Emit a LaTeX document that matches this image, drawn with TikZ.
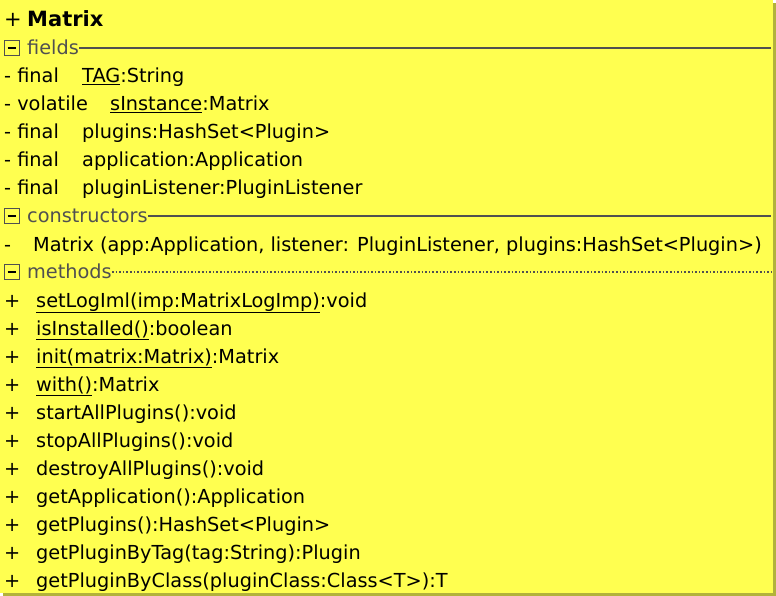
\documentclass[tikz,border=0pt]{standalone}
\usepackage{fontspec}
\setmainfont{DejaVu Sans}
\begin{document}
\begin{tikzpicture}[x=1pt, y=-1pt]

  % Define Colors
  \definecolor{notefill}{RGB}{255,255,80}
  \definecolor{noteshadow}{RGB}{178,178,58}
  \definecolor{headgray}{RGB}{80,80,80}

  % Node styles
  \tikzstyle{row}=[anchor=base west, inner sep=0pt, font=\fontsize{19.3}{22}\selectfont]
  \tikzstyle{titlerow}=[anchor=base west, inner sep=0pt, font=\fontsize{21}{24}\selectfont]
  \tikzstyle{head}=[row, text=headgray]
  \tikzstyle{foldbox}=[draw=headgray, thick, minimum size=15pt, inner sep=0pt]
  \tikzstyle{sep}=[headgray, line width=2pt]
  \tikzstyle{sepdot}=[headgray, line width=1.6pt, dash pattern=on 1.6pt off 2pt]

  % Box
  \useasboundingbox (0,0) rectangle (776,596);
  \fill[noteshadow] (3,3) rectangle (776,596);
  \fill[notefill] (0,0) rectangle (773,593);

  % Title
  \node[titlerow] (t_plus) at (4,27) {+};
  \node[titlerow, font=\fontsize{21}{24}\selectfont\bfseries] (t_name) at (27,27) {Matrix};

  % Fields
  \node[foldbox] (b_fields) at (12,48) {\rule{9pt}{1.5pt}};
  \node[head] (h_fields) at (27,54.5) {fields};
  \draw[sep] (h_fields.east |- b_fields) -- (771,48);

  \node[row] (f_1a) at (4,83) {- final};
  \node[row] (f_1b) at (82,83) {\underline{TAG}:String};
  \node[row] (f_2a) at (4,111) {- volatile};
  \node[row] (f_2b) at (110,111) {\underline{sInstance}:Matrix};
  \node[row] (f_3a) at (4,139) {- final};
  \node[row] (f_3b) at (82,139) {plugins:HashSet<Plugin>};
  \node[row] (f_4a) at (4,167) {- final};
  \node[row] (f_4b) at (82,167) {application:Application};
  \node[row] (f_5a) at (4,195) {- final};
  \node[row] (f_5b) at (82,195) {pluginListener:PluginListener};

  % Constructors
  \node[foldbox] (b_ctors) at (12,216) {\rule{9pt}{1.5pt}};
  \node[head] (h_ctors) at (27,222.5) {constructors};
  \draw[sep] (h_ctors.east |- b_ctors) -- (771,216);

  \node[row] (c_1a) at (4,251) {-};
  \node[row] (c_1b) at (33,251) {Matrix (app:Application, listener: PluginListener, plugins:HashSet<Plugin>)};

  % Methods
  \node[foldbox] (b_meths) at (12,272) {\rule{9pt}{1.5pt}};
  \node[head] (h_meths) at (27,278.5) {methods};
  \draw[sepdot] (h_meths.east |- b_meths) -- (771,272);

  \node[row] (m_1a) at (4,307) {+};
  \node[row] (m_1b) at (36,307) {\underline{setLogIml(imp:MatrixLogImp)}:void};
  \node[row] (m_2a) at (4,335) {+};
  \node[row] (m_2b) at (36,335) {\underline{isInstalled()}:boolean};
  \node[row] (m_3a) at (4,363) {+};
  \node[row] (m_3b) at (36,363) {\underline{init(matrix:Matrix)}:Matrix};
  \node[row] (m_4a) at (4,391) {+};
  \node[row] (m_4b) at (36,391) {\underline{with()}:Matrix};
  \node[row] (m_5a) at (4,419) {+};
  \node[row] (m_5b) at (36,419) {startAllPlugins():void};
  \node[row] (m_6a) at (4,447) {+};
  \node[row] (m_6b) at (36,447) {stopAllPlugins():void};
  \node[row] (m_7a) at (4,475) {+};
  \node[row] (m_7b) at (36,475) {destroyAllPlugins():void};
  \node[row] (m_8a) at (4,503) {+};
  \node[row] (m_8b) at (36,503) {getApplication():Application};
  \node[row] (m_9a) at (4,531) {+};
  \node[row] (m_9b) at (36,531) {getPlugins():HashSet<Plugin>};
  \node[row] (m_10a) at (4,559) {+};
  \node[row] (m_10b) at (36,559) {getPluginByTag(tag:String):Plugin};
  \node[row] (m_11a) at (4,587) {+};
  \node[row] (m_11b) at (36,587) {getPluginByClass(pluginClass:Class<T>):T};

\end{tikzpicture}
\end{document}
